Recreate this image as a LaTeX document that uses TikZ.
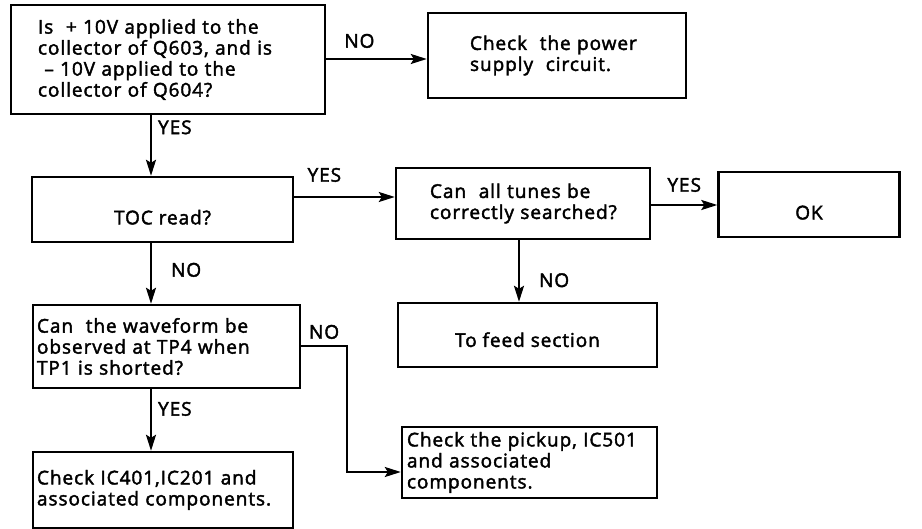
\documentclass[tikz,border=0pt]{standalone}
\usepackage{fontspec}
\setmainfont{Open Sans}
\newfontfamily\flowfont{Open Sans}[FakeBold=2.2, LetterSpace=5]
\usetikzlibrary{arrows.meta}
\tikzset{box/.style={draw, line width=2.4pt, inner sep=0pt, align=left, font=\flowfont\fontsize{19}{21}\selectfont},
  flow/.style={line width=2.2pt, -{Stealth[length=16pt,width=10pt,inset=3pt]}},
  lbl/.style={font=\flowfont\fontsize{19}{21}\selectfont, inner sep=0pt}}

\begin{document}
\begin{tikzpicture}[x=1pt,y=-1pt]
\useasboundingbox (0,0) rectangle (922,529);
\node [box, minimum width=314pt, minimum height=109pt, text width=260pt] (q603) at (168,59.5) {Is\ \ + 10V applied to the\\collector of Q603, and is\\\ – 10V applied to the\\collector of Q604?};
\node [box, minimum width=258pt, minimum height=85pt, text width=174pt] (power) at (557,55.5) {Check\ \ the power\\supply\ \ circuit.};
\node [box, minimum width=261pt, minimum height=65pt, align=center, text height=30pt] (toc) at (162.5,209.5) {TOC read?};
\node [box, minimum width=254pt, minimum height=71pt, text width=186pt] (tunes) at (523,203.5) {Can\ \ all tunes be\\correctly searched?};
\node [box, minimum width=181pt, minimum height=65pt, align=center, text height=30pt] (ok) at (809,204.5) {OK};
\node [box, minimum width=259pt, minimum height=64pt, align=center, text height=24pt] (feed) at (527.5,335) {To feed section};
\node [box, minimum width=267pt, minimum height=83pt, text width=259pt] (wave) at (166.5,346.5) {Can\ \ the waveform be\\observed at TP4 when\\TP1 is shorted?};
\node [box, minimum width=260pt, minimum height=76pt, text width=252pt] (ic401) at (163,490) {Check IC401,IC201 and\\associated components.\\[12pt]};
\node [box, minimum width=255pt, minimum height=71pt, text width=245pt] (pickup) at (529.5,462.5) {Check the pickup, IC501\\and associated\\components.};
\coordinate (bend) at (347,346);

\draw [flow] (q603.east |- 0,59) -- node[lbl, pos=.33, above=10pt] {NO} (power.west |- 0,59);
\draw [flow] (q603.south -| 151,0) -- node[lbl, pos=.2, anchor=west, xshift=6pt] {YES} (toc.north -| 151,0);
\draw [flow] (toc.east |- 0,197) -- node[lbl, pos=.3, above=14pt] {YES} (tunes.west |- 0,197);
\draw [flow] (tunes.east |- 0,205) -- node[lbl, pos=.5, above=12pt] {YES} (ok.west |- 0,205);
\draw [flow] (toc.south -| 151,0) -- node[lbl, pos=.44, anchor=west, xshift=19pt] {NO} (wave.north -| 151,0);
\draw [flow] (tunes.south -| 519,0) -- node[lbl, pos=.65, anchor=west, xshift=19pt] {NO} (feed.north -| 519,0);
\draw [flow] (wave.south -| 151,0) -- node[lbl, pos=.32, anchor=west, xshift=6pt] {YES} (ic401.north -| 151,0);
\draw [flow] (wave.east |- bend) -- node[lbl, pos=.5, above=6pt] {NO} (bend) |- (pickup.west |- 0,472);
\end{tikzpicture}
\end{document}
